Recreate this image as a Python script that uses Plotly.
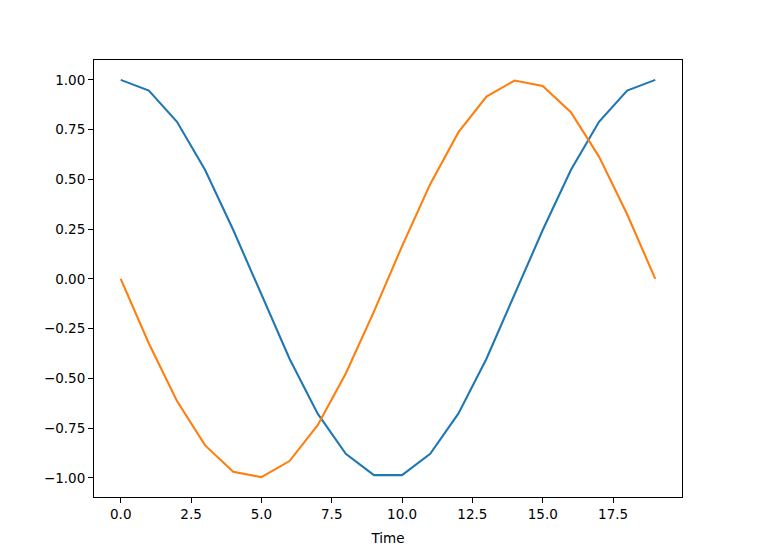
import plotly.graph_objects as go

time = list(range(20))
cos_vals = [1.000, 0.9458, 0.7891, 0.5469, 0.2455, -0.0826, -0.4017, -0.6773, -0.8795, -0.9864,
            -0.9864, -0.8795, -0.6773, -0.4017, -0.0826, 0.2455, 0.5469, 0.7891, 0.9458, 1.000]
sin_vals = [0.0, -0.3247, -0.6142, -0.8372, -0.9694, -0.9966, -0.9158, -0.7357, -0.4759, -0.1646,
            0.1646, 0.4759, 0.7357, 0.9158, 0.9966, 0.9694, 0.8372, 0.6142, 0.3247, 0.0]
x_ticks = [0.0, 2.5, 5.0, 7.5, 10.0, 12.5, 15.0, 17.5]
y_ticks = [1.00, 0.75, 0.50, 0.25, 0.00, -0.25, -0.50, -0.75, -1.00]

fig = go.Figure()
fig.add_trace(go.Scatter(x=time, y=cos_vals, mode="lines", line=dict(color="#1f77b4", width=2.1), showlegend=False))
fig.add_trace(go.Scatter(x=time, y=sin_vals, mode="lines", line=dict(color="#ff7f0e", width=2.1), showlegend=False))

axis_common = dict(showgrid=False, zeroline=False, showline=True, linecolor="black", linewidth=1,
                   mirror=True, ticks="outside", ticklen=5, tickwidth=1, tickcolor="black",
                   tickfont=dict(family="DejaVu Sans", size=13.5, color="black"))
fig.update_xaxes(range=[-0.95, 19.95], tickvals=x_ticks, tickformat=".1f",
                 title=dict(text="Time", font=dict(family="DejaVu Sans", size=13.5, color="black"), standoff=12),
                 **axis_common)
fig.update_yaxes(range=[-1.0964, 1.0998], tickvals=y_ticks, tickformat=".2f", **axis_common)

fig.update_layout(width=759, height=560, paper_bgcolor="white", plot_bgcolor="white",
                  margin=dict(l=86, r=85, t=52, b=71), font=dict(family="DejaVu Sans"))
fig.add_shape(type="line", xref="paper", yref="paper", x0=(749 - 86) / 588, x1=(749 - 86) / 588,
              y0=-1, y1=2, line=dict(color="#d0d0d0", width=2))

fig.write_html("out.html")
